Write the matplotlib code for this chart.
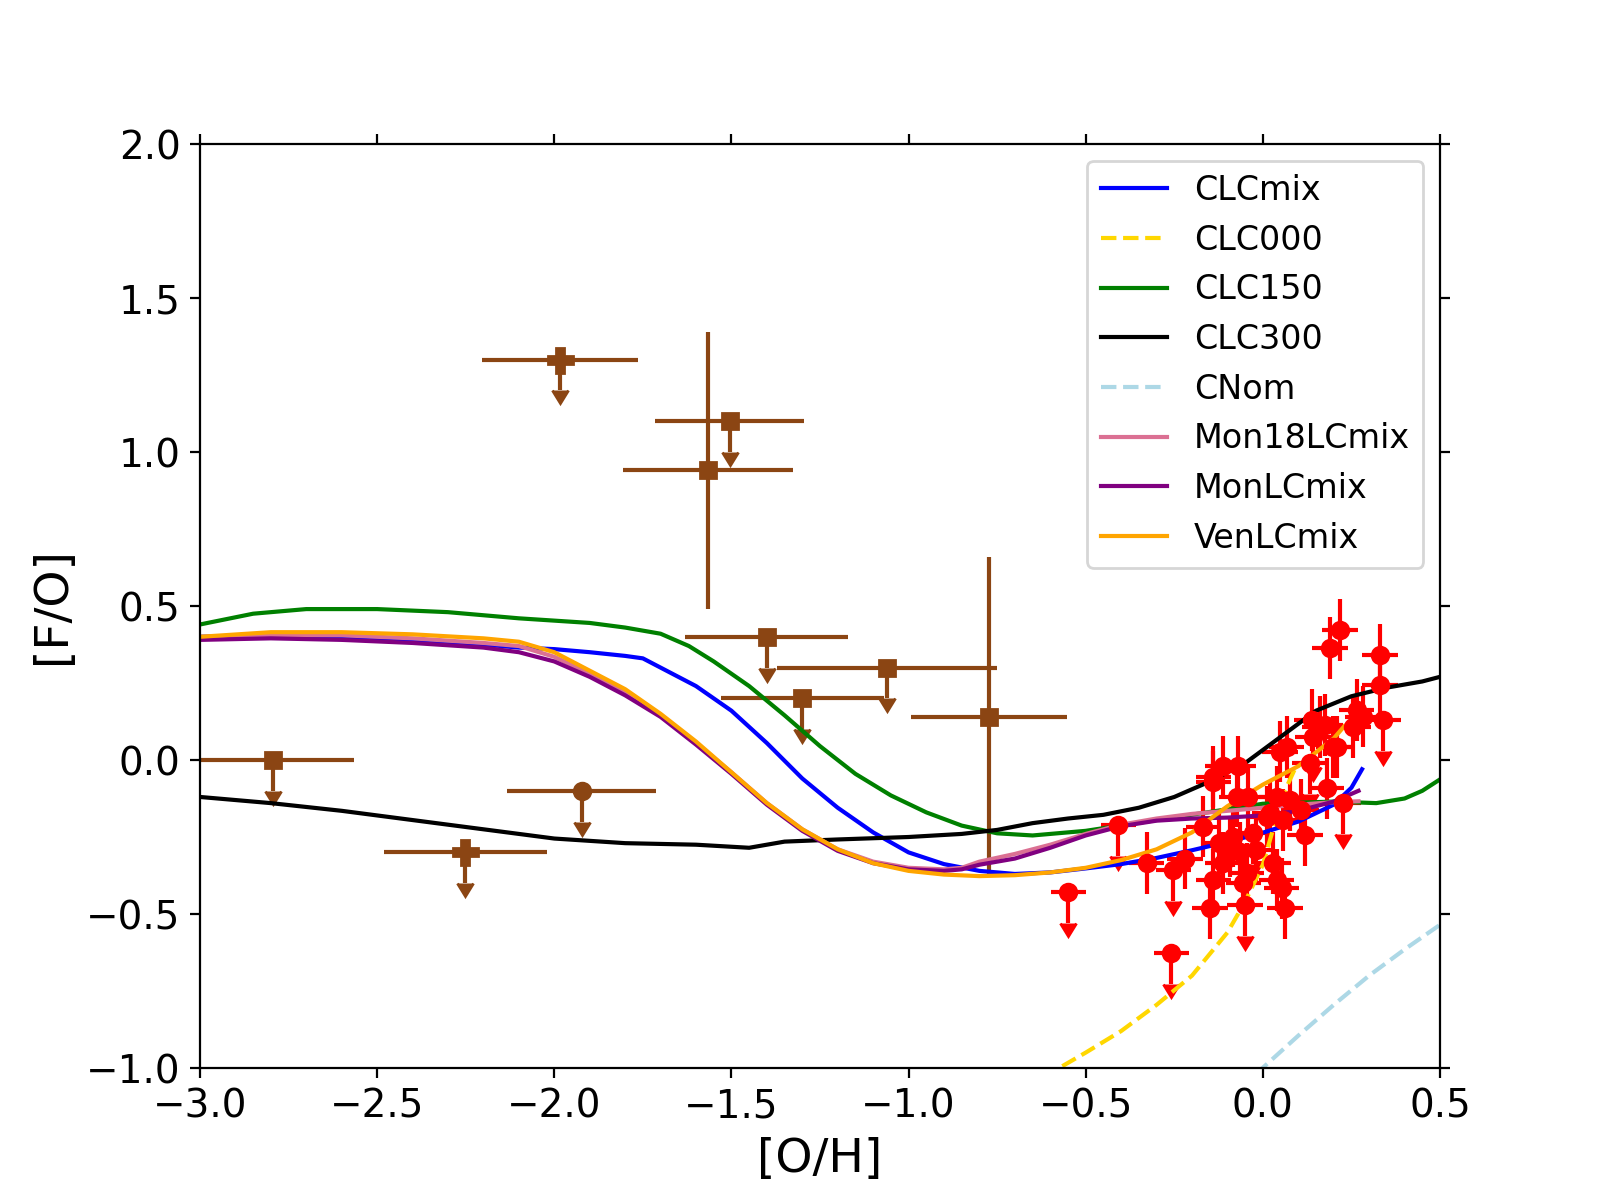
import numpy as np
import matplotlib.pyplot as plt

# model tracks
clcmix_x = [-3.0, -2.8, -2.6, -2.4, -2.2, -2.1, -2.0, -1.9, -1.8, -1.75, -1.7, -1.6, -1.5, -1.4, -1.3, -1.2,
            -1.1, -1.0, -0.9, -0.8, -0.7, -0.6, -0.5, -0.4, -0.3, -0.2, -0.1, 0.0, 0.1, 0.2, 0.25, 0.28]
clcmix_y = [0.40, 0.405, 0.40, 0.39, 0.375, 0.365, 0.36, 0.35, 0.338, 0.33, 0.30, 0.24, 0.16, 0.055, -0.06, -0.155,
            -0.235, -0.30, -0.338, -0.36, -0.37, -0.365, -0.352, -0.338, -0.318, -0.293, -0.266, -0.236, -0.20, -0.145, -0.09, -0.03]

clc000_x = [-0.62, -0.5, -0.4, -0.3, -0.2, -0.1, -0.05, 0.0, 0.04, 0.07, 0.09]
clc000_y = [-1.03, -0.95, -0.88, -0.795, -0.70, -0.56, -0.46, -0.34, -0.18, -0.08, -0.03]

clc150_x = [-3.0, -2.85, -2.7, -2.5, -2.3, -2.1, -1.9, -1.8, -1.7, -1.62, -1.55, -1.45, -1.35, -1.25, -1.15,
            -1.05, -0.95, -0.85, -0.75, -0.65, -0.5, -0.3, -0.1, 0.0, 0.2, 0.32, 0.4, 0.45, 0.5]
clc150_y = [0.44, 0.475, 0.49, 0.49, 0.48, 0.46, 0.445, 0.43, 0.41, 0.37, 0.32, 0.24, 0.145, 0.045, -0.045,
            -0.115, -0.17, -0.213, -0.238, -0.245, -0.23, -0.195, -0.16, -0.142, -0.135, -0.14, -0.125, -0.10, -0.063]

clc300_x = [-3.0, -2.8, -2.6, -2.4, -2.2, -2.0, -1.8, -1.6, -1.45, -1.35, -1.2, -1.0, -0.85, -0.75, -0.65,
            -0.55, -0.45, -0.35, -0.25, -0.15, -0.05, 0.05, 0.15, 0.25, 0.35, 0.45, 0.5]
clc300_y = [-0.12, -0.14, -0.165, -0.195, -0.225, -0.255, -0.27, -0.275, -0.285, -0.265, -0.258, -0.25, -0.24,
            -0.227, -0.205, -0.19, -0.178, -0.155, -0.12, -0.07, -0.01, 0.075, 0.16, 0.207, 0.235, 0.255, 0.27]

cnom_x = [-0.02, 0.1, 0.2, 0.3, 0.4, 0.5]
cnom_y = [-1.02, -0.895, -0.795, -0.70, -0.615, -0.535]

mon18_x = [-3.0, -2.8, -2.6, -2.4, -2.2, -2.1, -2.0, -1.9, -1.8, -1.7, -1.6, -1.5, -1.4, -1.3, -1.2, -1.1,
           -1.0, -0.9, -0.85, -0.8, -0.7, -0.6, -0.5, -0.4, -0.3, -0.2, -0.1, 0.0, 0.1, 0.2, 0.27]
mon18_y = [0.40, 0.405, 0.405, 0.395, 0.38, 0.37, 0.335, 0.28, 0.22, 0.145, 0.055, -0.04, -0.14, -0.225, -0.29,
           -0.33, -0.35, -0.355, -0.35, -0.33, -0.305, -0.275, -0.24, -0.21, -0.19, -0.175, -0.165, -0.155, -0.145, -0.137, -0.134]

mon_x = [-3.0, -2.8, -2.6, -2.4, -2.2, -2.1, -2.0, -1.9, -1.8, -1.7, -1.6, -1.5, -1.4, -1.3, -1.2, -1.1,
         -1.0, -0.9, -0.85, -0.8, -0.7, -0.6, -0.5, -0.4, -0.3, -0.2, -0.1, 0.0, 0.1, 0.2, 0.27]
mon_y = [0.39, 0.395, 0.39, 0.38, 0.365, 0.35, 0.32, 0.27, 0.21, 0.14, 0.05, -0.045, -0.145, -0.23, -0.295,
         -0.335, -0.355, -0.36, -0.355, -0.34, -0.32, -0.285, -0.245, -0.215, -0.197, -0.19, -0.187, -0.18, -0.165, -0.135, -0.10]

ven_x = [-3.0, -2.8, -2.6, -2.4, -2.2, -2.1, -2.0, -1.9, -1.8, -1.7, -1.6, -1.5, -1.4, -1.3, -1.2, -1.1,
         -1.0, -0.9, -0.8, -0.7, -0.6, -0.5, -0.4, -0.3, -0.2, -0.1, 0.0, 0.1, 0.2, 0.23]
ven_y = [0.40, 0.415, 0.415, 0.408, 0.395, 0.384, 0.35, 0.29, 0.23, 0.15, 0.06, -0.04, -0.14, -0.225, -0.29,
         -0.335, -0.36, -0.372, -0.377, -0.374, -0.365, -0.35, -0.325, -0.29, -0.235, -0.15, -0.08, -0.02, 0.07, 0.11]

# brown observations (squares, filled plus, circle)
sq_x = [-2.795, -1.505, -1.565, -1.40, -1.30, -1.06, -0.773]
sq_y = [0.0, 1.10, 0.94, 0.40, 0.20, 0.30, 0.14]
sq_xerr = [0.23, 0.21, 0.24, 0.23, 0.23, 0.31, 0.22]
sq_yerr = [0.1, 0.1, 0.45, 0.1, 0.1, 0.1, 0.52]
sq_lim = [True, True, False, True, True, True, False]

pl_x = [-2.251, -1.985]
pl_y = [-0.30, 1.30]
pl_xerr = [0.23, 0.22]
pl_yerr = [0.1, 0.1]
pl_lim = [True, True]

ci_x = [-1.923]
ci_y = [-0.10]
ci_xerr = [0.21]
ci_yerr = [0.1]
ci_lim = [True]

# red observations
red_x = [-0.549, -0.408, -0.328, -0.258, -0.253, -0.22, -0.168, -0.140, -0.112, -0.069, -0.140, -0.149,
         -0.112, -0.074, -0.041, -0.083, -0.046, -0.050, -0.027, 0.011, 0.029, 0.039, 0.053, 0.062, 0.048,
         0.058, 0.039, 0.109, 0.119, 0.138, 0.142, 0.175, 0.180, 0.208, 0.227, 0.218, 0.189, 0.331, 0.331,
         0.340, 0.265, 0.283, 0.255, 0.161, -0.140, -0.018, -0.093, 0.020, 0.133, 0.067, 0.199, -0.055,
         -0.065, 0.076, -0.125]
red_y = [-0.428, -0.211, -0.335, -0.628, -0.357, -0.32, -0.216, -0.054, -0.021, -0.021, -0.390, -0.482,
         -0.335, -0.119, -0.119, -0.249, -0.368, -0.471, -0.238, -0.184, -0.335, -0.390, -0.417, -0.482, 0.027,
         -0.195, -0.119, -0.162, -0.244, 0.130, 0.076, 0.114, -0.092, 0.043, -0.141, 0.422, 0.363, 0.341, 0.244,
         0.130, 0.162, 0.141, 0.108, 0.108, -0.070, -0.292, -0.281, -0.173, -0.011, 0.043, 0.043, -0.400,
         -0.300, -0.130, -0.270]
red_lim = [True, True, False, True, True, False, False, False, False, False, False, False,
           False, False, False, False, False, True, True, False, False, False, False, False, False,
           False, False, False, False, False, True, False, False, False, True, False, False, False, False,
           True, False, False, False, False, False, False, False, False, True, False, False, False,
           False, False, False]

brown = '#8B4513'

plt.rcParams['font.size'] = 14
fig, ax = plt.subplots(figsize=(8, 6), dpi=200)

ax.errorbar(red_x, red_y, xerr=0.05, yerr=0.1, uplims=red_lim, fmt='o', color='red', ms=6, capsize=0)
ax.errorbar(sq_x, sq_y, xerr=sq_xerr, yerr=sq_yerr, uplims=sq_lim, fmt='s', color=brown, ms=6, capsize=0)
ax.errorbar(pl_x, pl_y, xerr=pl_xerr, yerr=pl_yerr, uplims=pl_lim, fmt='P', color=brown, ms=9, capsize=0)
ax.errorbar(ci_x, ci_y, xerr=ci_xerr, yerr=ci_yerr, uplims=ci_lim, fmt='o', color=brown, ms=6, capsize=0)

ax.plot(clcmix_x, clcmix_y, color='blue', label='CLCmix')
ax.plot(clc000_x, clc000_y, color='gold', ls='--', label='CLC000')
ax.plot(clc150_x, clc150_y, color='green', label='CLC150')
ax.plot(clc300_x, clc300_y, color='black', label='CLC300')
ax.plot(cnom_x, cnom_y, color='lightblue', ls='--', label='CNom')
ax.plot(mon18_x, mon18_y, color='palevioletred', label='Mon18LCmix')
ax.plot(mon_x, mon_y, color='purple', label='MonLCmix')
ax.plot(ven_x, ven_y, color='orange', label='VenLCmix')

ax.set_xlim(-3, 0.5)
ax.set_ylim(-1, 2)
ax.tick_params(top=True, right=True, labelsize=14)
ax.set_xlabel('[O/H]', fontsize=17)
ax.set_ylabel('[F/O]', fontsize=17)
ax.legend(loc='upper right', fontsize=12)

fig.savefig('out.png', dpi=200)
